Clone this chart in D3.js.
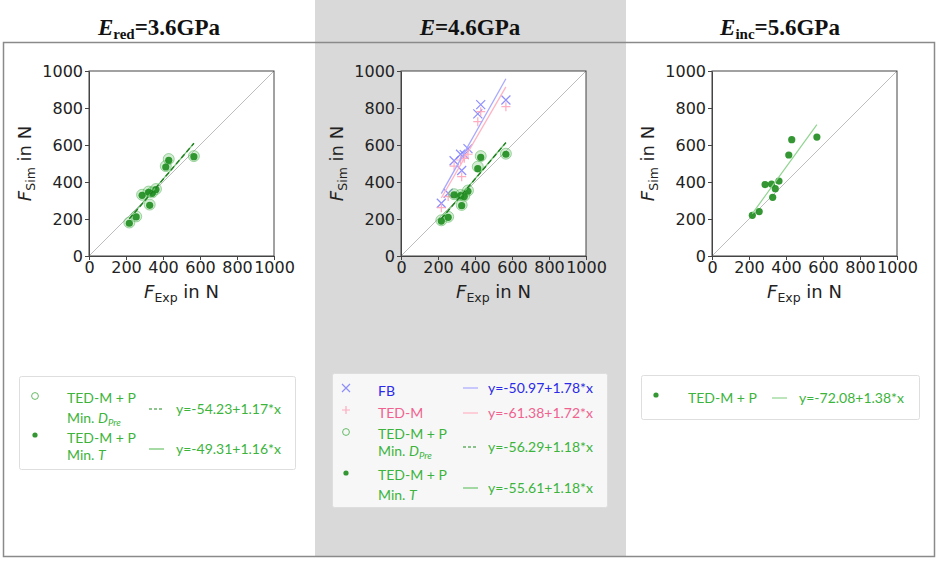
<!DOCTYPE html>
<html>
<head>
<meta charset="utf-8">
<script src="https://cdn.jsdelivr.net/npm/d3@7"></script>
<style>
  body { margin: 0; background: #fff; }
  svg { display: block; }
</style>
</head>
<body>
<div id="chart"></div>
<script>
// experimental forces (same specimens in every panel)
const fExp = [218, 255, 287, 322, 328, 342, 362, 415, 431, 567];

// E_red = 3.6 GPa
const redMinDPre = [181, 214, 331, 348, 278, 344, 362, 486, 524, 540];
const redMinT    = [177, 211, 328, 344, 274, 339, 359, 481, 517, 537];
// E = 4.6 GPa
const midFB      = [285, 339, 515, 550, 462, 548, 580, 768, 818, 843];
const midTEDM    = [261, 321, 486, 519, 429, 528, 550, 726, 780, 807];
const midMinDPre = [193, 212, 334, 330, 276, 326, 354, 483, 540, 553];
const midMinT    = [189, 209, 330, 326, 272, 321, 350, 472, 533, 550];
// E_inc = 5.6 GPa
const incMinT    = [220, 240, 386, 389, 317, 364, 405, 546, 629, 643];

// linear fits [intercept, slope] as printed in the legends
const fitRedDPre = [-54.23, 1.17], fitRedT = [-49.31, 1.16];
const fitFB = [-50.97, 1.78], fitTEDM = [-61.38, 1.72];
const fitMidDPre = [-56.29, 1.18], fitMidT = [-55.61, 1.18];
const fitInc = [-72.08, 1.38];

const axisTicks = [0, 200, 400, 600, 800, 1000];

const W = 941, H = 563;
const svg = d3.select("#chart").append("svg")
    .attr("width", W).attr("height", H);

const green = "#3cb43c", darkGreen = "#1e8c1e";

// middle grey band
svg.append("rect").attr("x", 315).attr("y", 0).attr("width", 311).attr("height", 557)
    .attr("fill", "#d9d9d9");
// outer frame
svg.append("rect").attr("x", 3.5).attr("y", 42.5).attr("width", 931).attr("height", 514)
    .attr("fill", "none").attr("stroke", "#8a8a8a").attr("stroke-width", 1.5);

const panels = [
    { cx: 159, title: "red", value: "=3.6GPa", left: 89,
      series: [
        { kind: "open", y: redMinDPre },
        { kind: "dot", y: redMinT }
      ],
      fits: [
        { c: fitRedT, color: "#6cc46c", dash: null, w: 1.2 },
        { c: fitRedDPre, color: "#1e7d1e", dash: "5,3", w: 1.4 }
      ],
      legend: { x: 19, y: 376, w: 276, h: 93, fill: "#ffffff", mx: 35, lx: 67, sx: 149, ex: 176,
        rows: [
          { kind: "open", my: 396, labels: [[398, "TED-M + P"], [418, "Min. ", "D", "Pre"]], ly: 409, dash: "3,2",
            eq: fitRedDPre, text: green, lineColor: "#1e8c1e" },
          { kind: "dot", my: 435, labels: [[438, "TED-M + P"], [455, "Min. ", "T"]], ly: 449, dash: null,
            eq: fitRedT, text: green, lineColor: "#6cc46c" }
        ] } },
    { cx: 470, title: null, value: "=4.6GPa", left: 401,
      series: [
        { kind: "x", y: midFB },
        { kind: "plus", y: midTEDM },
        { kind: "open", y: midMinDPre },
        { kind: "dot", y: midMinT }
      ],
      fits: [
        { c: fitFB, color: "#a8a8ff", dash: null, w: 1.3 },
        { c: fitTEDM, color: "#ffb3c3", dash: null, w: 1.3 },
        { c: fitMidT, color: "#6cc46c", dash: null, w: 1.2 },
        { c: fitMidDPre, color: "#1e7d1e", dash: "5,3", w: 1.4 }
      ],
      legend: { x: 332, y: 373, w: 275, h: 134, fill: "#f7f7f7", mx: 346, lx: 378, sx: 463, ex: 488,
        rows: [
          { kind: "x", my: 388, labels: [[391, "FB"]], ly: 388, dash: null,
            eq: fitFB, text: "#2a2ae8", lineColor: "#a8a8ff" },
          { kind: "plus", my: 410, labels: [[413, "TED-M"]], ly: 413, dash: null,
            eq: fitTEDM, text: "#f0628f", lineColor: "#ffb3c3" },
          { kind: "open", my: 432, labels: [[434, "TED-M + P"], [451, "Min. ", "D", "Pre"]], ly: 447, dash: "3,2",
            eq: fitMidDPre, text: green, lineColor: "#1e8c1e" },
          { kind: "dot", my: 473, labels: [[475, "TED-M + P"], [495, "Min. ", "T"]], ly: 488, dash: null,
            eq: fitMidT, text: green, lineColor: "#6cc46c" }
        ] } },
    { cx: 780, title: "inc", value: "=5.6GPa", left: 712,
      series: [
        { kind: "dot", y: incMinT }
      ],
      fits: [
        { c: fitInc, color: "#8fd48f", dash: null, w: 1.2 }
      ],
      legend: { x: 641, y: 375, w: 278, h: 44, fill: "#ffffff", mx: 656, lx: 688, sx: 772, ex: 799,
        rows: [
          { kind: "dot", my: 395, labels: [[398, "TED-M + P"]], ly: 398, dash: null,
            eq: fitInc, text: green, lineColor: "#8fd48f" }
        ] } }
];

const plotSize = 185, plotTop = 71;
const tickFont = "'DejaVu Sans', sans-serif";
const legendFont = "Lato, 'Open Sans', sans-serif";

function drawMarker(g, kind, px, py, inLegend) {
    if (kind === "dot") {
        g.append("circle").attr("cx", px).attr("cy", py).attr("r", inLegend ? 2.6 : 3.6)
            .attr("fill", darkGreen).attr("opacity", 0.9);
    } else if (kind === "open") {
        if (inLegend) {
            g.append("circle").attr("cx", px).attr("cy", py).attr("r", 3.4)
                .attr("fill", "none").attr("stroke", "#66bb66").attr("stroke-width", 1);
        } else {
            g.append("circle").attr("cx", px).attr("cy", py).attr("r", 5.5)
                .attr("fill", "#7fcc7f").attr("fill-opacity", 0.35)
                .attr("stroke", "#4caf50").attr("stroke-opacity", 0.5).attr("stroke-width", 1);
        }
    } else if (kind === "x") {
        const s = inLegend ? 4 : 4.5;
        g.append("path")
            .attr("d", `M${px - s},${py - s}L${px + s},${py + s}M${px - s},${py + s}L${px + s},${py - s}`)
            .attr("stroke", "#7a7aff").attr("stroke-width", 1.2).attr("fill", "none").attr("opacity", 0.85);
    } else if (kind === "plus") {
        const s = inLegend ? 4 : 4.5;
        g.append("path")
            .attr("d", `M${px - s},${py}L${px + s},${py}M${px},${py - s}L${px},${py + s}`)
            .attr("stroke", "#ff9fb5").attr("stroke-width", 1.2).attr("fill", "none").attr("opacity", 0.85);
    }
}

const fmtEq = c => `y=${c[0].toFixed(2)}+${c[1].toFixed(2)}*x`;

panels.forEach(p => {
    // title
    const t = svg.append("text")
        .attr("x", p.cx).attr("y", 35)
        .attr("text-anchor", "middle")
        .style("font-family", "'Liberation Serif', 'Times New Roman', serif")
        .style("font-weight", "bold")
        .style("font-size", "23px")
        .style("fill", "#111");
    t.append("tspan").style("font-style", "italic").text("E");
    if (p.title) {
        t.append("tspan").attr("dy", 4).style("font-size", "15px").text(p.title);
        t.append("tspan").attr("dy", -4).text(p.value);
    } else {
        t.append("tspan").text(p.value);
    }

    const x = d3.scaleLinear().domain([0, 1000]).range([p.left, p.left + plotSize]);
    const y = d3.scaleLinear().domain([0, 1000]).range([plotTop + plotSize, plotTop]);

    // plot background
    svg.append("rect").attr("x", x(0)).attr("y", y(1000))
        .attr("width", plotSize).attr("height", plotSize).attr("fill", "#fff");

    // 1:1 line
    svg.append("line")
        .attr("x1", x(0)).attr("y1", y(0)).attr("x2", x(1000)).attr("y2", y(1000))
        .attr("stroke", "#bdbdbd").attr("stroke-width", 1);

    const xMin = d3.min(fExp), xMax = d3.max(fExp);
    const g = svg.append("g");

    p.series.forEach(s => {
        s.y.forEach((v, i) => drawMarker(g, s.kind, x(fExp[i]), y(v), false));
    });

    p.fits.forEach(f => {
        g.append("line")
            .attr("x1", x(xMin)).attr("y1", y(f.c[0] + f.c[1] * xMin))
            .attr("x2", x(xMax)).attr("y2", y(f.c[0] + f.c[1] * xMax))
            .attr("stroke", f.color).attr("stroke-width", f.w)
            .attr("stroke-dasharray", f.dash);
    });

    // axes
    const ax = svg.append("g")
        .attr("transform", `translate(0,${y(0)})`)
        .call(d3.axisBottom(x).tickValues(axisTicks).tickFormat(d3.format("d"))
            .tickSize(4).tickPadding(2).tickSizeOuter(0));
    const ay = svg.append("g")
        .attr("transform", `translate(${x(0)},0)`)
        .call(d3.axisLeft(y).tickValues(axisTicks).tickFormat(d3.format("d"))
            .tickSize(4).tickPadding(2).tickSizeOuter(0));
    [ax, ay].forEach(a => {
        a.attr("font-family", null).attr("font-size", null);
        a.selectAll("text").style("font-family", tickFont).style("font-size", "16px").style("fill", "#222");
        a.selectAll("line").attr("stroke", "#444");
        a.select(".domain").attr("stroke", "#444");
    });
    // box
    svg.append("rect").attr("x", x(0)).attr("y", y(1000))
        .attr("width", plotSize).attr("height", plotSize)
        .attr("fill", "none").attr("stroke", "#444").attr("stroke-width", 1);

    // x label
    const xl = svg.append("text")
        .attr("x", x(500)).attr("y", 298)
        .attr("text-anchor", "middle")
        .style("font-family", tickFont).style("font-size", "18px").style("fill", "#222");
    xl.append("tspan").style("font-style", "italic").text("F");
    xl.append("tspan").attr("dy", 4).style("font-size", "12.5px").text("Exp");
    xl.append("tspan").attr("dy", -4).text(" in N");

    // y label
    const yl = svg.append("text")
        .attr("transform", `translate(${p.left - 58},${y(500)}) rotate(-90)`)
        .attr("text-anchor", "middle")
        .style("font-family", tickFont).style("font-size", "18px").style("fill", "#222");
    yl.append("tspan").style("font-style", "italic").text("F");
    yl.append("tspan").attr("dy", 4).style("font-size", "12.5px").text("Sim");
    yl.append("tspan").attr("dy", -4).text(" in N");

    // legend
    const L = p.legend;
    svg.append("rect").attr("x", L.x + 0.5).attr("y", L.y + 0.5).attr("width", L.w).attr("height", L.h)
        .attr("fill", L.fill).attr("stroke", "#dedede").attr("stroke-width", 1).attr("rx", 2);
    L.rows.forEach(r => {
        drawMarker(svg, r.kind, L.mx, r.my, true);
        r.labels.forEach(lb => {
            const tt = svg.append("text")
                .attr("x", L.lx).attr("y", lb[0] + 5)
                .style("font-family", legendFont).style("font-size", "14px").style("fill", r.text);
            tt.append("tspan").text(lb[1]);
            if (lb.length > 2) tt.append("tspan").style("font-style", "italic").text(lb[2]);
            if (lb.length > 3) tt.append("tspan").attr("dy", 3).style("font-style", "italic")
                .style("font-size", "9.5px").text(lb[3]);
        });
        svg.append("line")
            .attr("x1", L.sx).attr("x2", L.sx + 15).attr("y1", r.ly).attr("y2", r.ly)
            .attr("stroke", r.lineColor).attr("stroke-width", 1.2)
            .attr("stroke-dasharray", r.dash);
        svg.append("text")
            .attr("x", L.ex).attr("y", r.ly + 5)
            .style("font-family", legendFont).style("font-size", "14px").style("fill", r.text)
            .text(fmtEq(r.eq));
    });
});
</script>
</body>
</html>
